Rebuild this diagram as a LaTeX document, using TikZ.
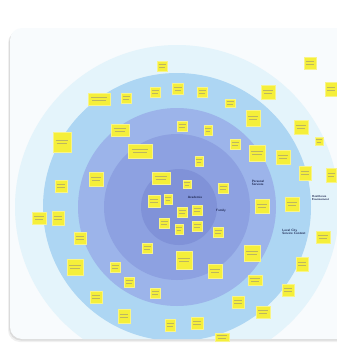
\documentclass[tikz,border=0pt]{standalone}
\usetikzlibrary{calc}
\definecolor{cardbg}{HTML}{F8FBFD}
\definecolor{ringA}{HTML}{E4F4FB}
\definecolor{ringB}{HTML}{ADD6F3}
\definecolor{ringC}{HTML}{9CB4EA}
\definecolor{ringD}{HTML}{8DA1E1}
\definecolor{ringE}{HTML}{8092D8}
\definecolor{noteyl}{HTML}{F5EF3A}
\definecolor{notebd}{HTML}{F8F488}
\definecolor{scrib}{HTML}{BDB660}
\definecolor{lbl}{HTML}{17204A}
\tikzset{
  note/.style={draw=notebd, line width=0.9pt, fill=noteyl, inner sep=0pt, outer sep=0pt},
  scribble/.style={draw=scrib, line width=0.7pt},
  lab/.style={font=\fontsize{3.2}{3.7}\selectfont\sffamily\bfseries, text=lbl, align=left, inner sep=0pt},
}
\newcommand\nt[5]{\node[note, minimum width=#4pt, minimum height=#5pt,
  path picture={
    \draw[scribble] ($(path picture bounding box.west)!.3!(path picture bounding box.center)+(0,-1.2)$) -- ($(path picture bounding box.east)!.3!(path picture bounding box.center)+(0,-1.2)$);
    \draw[scribble] ($(path picture bounding box.west)!.4!(path picture bounding box.center)+(0,1.2)$) -- ($(path picture bounding box.east)!.4!(path picture bounding box.center)+(0,1.2)$);
  }] (#1) at (#2,#3) {};}
\begin{document}
\begin{tikzpicture}[x=1pt,y=-1pt]
\useasboundingbox (0,0) rectangle (337,343);
\fill[white] (0,0) rectangle (337,343);
% card with shadow
\fill[black!6, rounded corners=12pt] (8,31) rectangle (350,342);
\fill[black!14, rounded corners=12pt] (9,30) rectangle (350,340.5);
\fill[cardbg, rounded corners=12pt] (10,28) rectangle (350,339);
\begin{scope}
\clip[rounded corners=12pt] (10,28) rectangle (350,339);
\fill[ringA] (177,207) circle (162);
\fill[ringB] (177,207) circle (134);
\fill[ringC] (177,207) circle (99);
\fill[ringD] (177,207) circle (73);
\fill[ringE] (179,207) circle (38);
\end{scope}
% notes
\nt{n1}{162}{66}{10}{10}
\nt{n2}{310}{63}{12}{12}
\nt{n3}{331}{89}{12}{14}
\nt{n4}{99}{99}{22}{12}
\nt{n5}{126}{98}{10}{10}
\nt{n6}{155}{92}{10}{10}
\nt{n7}{178}{89}{11}{11}
\nt{n8}{202}{92}{10}{10}
\nt{n9}{230}{103}{10}{8}
\nt{n10}{268}{92}{14}{14}
\nt{n11}{253}{118}{14}{16}
\nt{n12}{301}{127}{14}{14}
\nt{n13}{319}{141}{8}{8}
\nt{n14}{62}{142}{18}{20}
\nt{n15}{120}{130}{18}{12}
\nt{n16}{182}{126}{10}{10}
\nt{n17}{208}{130}{8}{10}
\nt{n18}{235}{144}{10}{10}
\nt{n19}{140}{151}{24}{14}
\nt{n20}{257}{153}{16}{16}
\nt{n21}{283}{157}{14}{14}
\nt{n22}{199}{161}{8}{10}
\nt{n23}{305}{173}{12}{14}
\nt{n24}{331}{175}{10}{14}
\nt{n25}{96}{179}{14}{14}
\nt{n26}{61}{186}{12}{12}
\nt{n27}{161}{178}{18}{12}
\nt{n28}{187}{184}{8}{8}
\nt{n29}{223}{188}{10}{10}
\nt{n30}{154}{201}{12}{12}
\nt{n31}{168}{199}{8}{10}
\nt{n32}{182}{212}{10}{10}
\nt{n33}{197}{210}{10}{10}
\nt{n34}{262}{206}{14}{14}
\nt{n35}{292}{204}{14}{14}
\nt{n36}{39}{218}{14}{12}
\nt{n37}{58}{218}{12}{14}
\nt{n38}{164}{223}{10}{10}
\nt{n39}{179}{229}{8}{10}
\nt{n40}{197}{226}{10}{10}
\nt{n41}{218}{232}{10}{10}
\nt{n42}{323}{237}{14}{12}
\nt{n43}{80}{238}{12}{12}
\nt{n44}{147}{248}{10}{10}
\nt{n45}{252}{253}{16}{16}
\nt{n46}{184}{260}{16}{18}
\nt{n47}{302}{264}{12}{14}
\nt{n48}{75}{267}{16}{16}
\nt{n49}{115}{267}{10}{10}
\nt{n50}{215}{271}{14}{14}
\nt{n51}{129}{282}{10}{10}
\nt{n52}{255}{280}{14}{10}
\nt{n53}{155}{293}{10}{10}
\nt{n54}{288}{290}{12}{12}
\nt{n55}{96}{297}{12}{12}
\nt{n56}{238}{302}{12}{12}
\nt{n57}{124}{316}{12}{14}
\nt{n58}{263}{312}{14}{12}
\nt{n59}{170}{325}{10}{12}
\nt{n60}{197}{323}{12}{12}
\nt{n61}{222}{337}{14}{8}
% labels
\node[lab] (l1) at (195,197) {Academia};
\node[lab] (l2) at (221,211) {Family};
\node[lab] (l3) at (258,183) {Personal\\Services};
\node[lab] (l4) at (294,232) {Local City\\Service Context};
\node[lab, anchor=west, font=\fontsize{2.9}{3.5}\selectfont\sffamily\bfseries] (l5) at (312,198) {Healthcare\\Environment};
\end{tikzpicture}
\end{document}
